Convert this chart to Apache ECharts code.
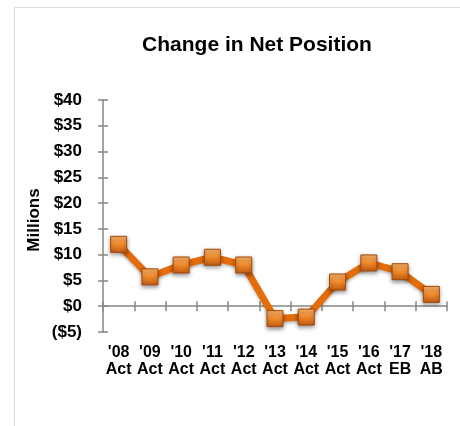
<!DOCTYPE html>
<html><head><meta charset="utf-8">
<script src="https://cdn.jsdelivr.net/npm/echarts@6/dist/echarts.min.js"></script>
<style>html,body{margin:0;padding:0;background:#fff}#c{width:460px;height:426px}</style>
</head><body><div id="c"></div>
<script>
const categories = ["'08\nAct","'09\nAct","'10\nAct","'11\nAct","'12\nAct","'13\nAct","'14\nAct","'15\nAct","'16\nAct","'17\nEB","'18\nAB"];
const netPosition = [12.0, 5.7, 8.0, 9.5, 8.0, -2.4, -2.1, 4.7, 8.4, 6.7, 2.3];
const yMin = -5, yMax = 40, yStep = 5;

const chart = echarts.init(document.getElementById('c'), null, {renderer:'canvas'});
const font = 'Liberation Sans, Arial, sans-serif';
const axisColor = '#868686';
const yFmt = v => v < 0 ? '($' + Math.abs(v) + ')' : '$' + v;
chart.setOption({
  animation:false,
  backgroundColor:'#fff',
  graphic:[
    {type:'rect', shape:{x:14.5,y:7.5,width:470,height:440}, style:{fill:'none', stroke:'#d9d9d9', lineWidth:1}, silent:true},
    {type:'text', x:34, y:220, rotation:Math.PI/2, style:{text:'Millions', align:'center', verticalAlign:'middle', font:'bold 17px ' + font, fill:'#000'}, silent:true},
    {type:'text', x:257, y:45, style:{text:'Change in Net Position', align:'center', verticalAlign:'middle', font:'bold 21px ' + font, fill:'#000'}, silent:true}
  ],
  grid:{left:103, right:13, top:100, bottom:94},
  xAxis:[{
    type:'category', data:categories, boundaryGap:true,
    axisLine:{onZero:true, lineStyle:{color:axisColor, width:1.5}},
    axisTick:{show:true, length:5, lineStyle:{color:axisColor, width:1.5}},
    axisLabel:{interval:0, fontFamily:font, fontWeight:'bold', fontSize:16, color:'#000', lineHeight:17,
      margin:12, verticalAlign:'top'},
    splitLine:{show:false}
  },{
    type:'category', data:categories, boundaryGap:true, position:'bottom',
    axisLine:{show:false, onZero:true},
    axisTick:{show:true, inside:true, length:5, lineStyle:{color:axisColor, width:1.5}},
    axisLabel:{show:false}, splitLine:{show:false}
  }],
  yAxis:[{
    type:'value', min:yMin, max:yMax, interval:yStep,
    axisLine:{show:true, lineStyle:{color:axisColor, width:1.5}},
    axisTick:{show:true, length:5, lineStyle:{color:axisColor, width:1.5}},
    axisLabel:{fontFamily:font, fontWeight:'bold', fontSize:17, color:'#000', margin:21, formatter:yFmt},
    splitLine:{show:false}
  },{
    type:'value', min:yMin, max:yMax, interval:yStep, position:'left',
    axisLine:{show:false},
    axisTick:{show:true, inside:true, length:5, lineStyle:{color:axisColor, width:1.5}},
    axisLabel:{show:false}, splitLine:{show:false}
  }],
  series:[{
    type:'line', data:netPosition, xAxisIndex:0, yAxisIndex:0,
    lineStyle:{color:'#E46C0A', width:7, shadowBlur:3, shadowColor:'rgba(0,0,0,0.25)', shadowOffsetY:2},
    symbol:'rect', symbolSize:16,
    itemStyle:{
      color:new echarts.graphic.LinearGradient(0,0,0,1,[{offset:0,color:'#fbb36a'},{offset:0.5,color:'#ef8a2c'},{offset:1,color:'#c45a0e'}]),
      borderColor:'#a34a0b', borderWidth:1,
      shadowBlur:4, shadowColor:'rgba(0,0,0,0.4)', shadowOffsetY:2
    },
    z:5
  }]
});
</script></body></html>
